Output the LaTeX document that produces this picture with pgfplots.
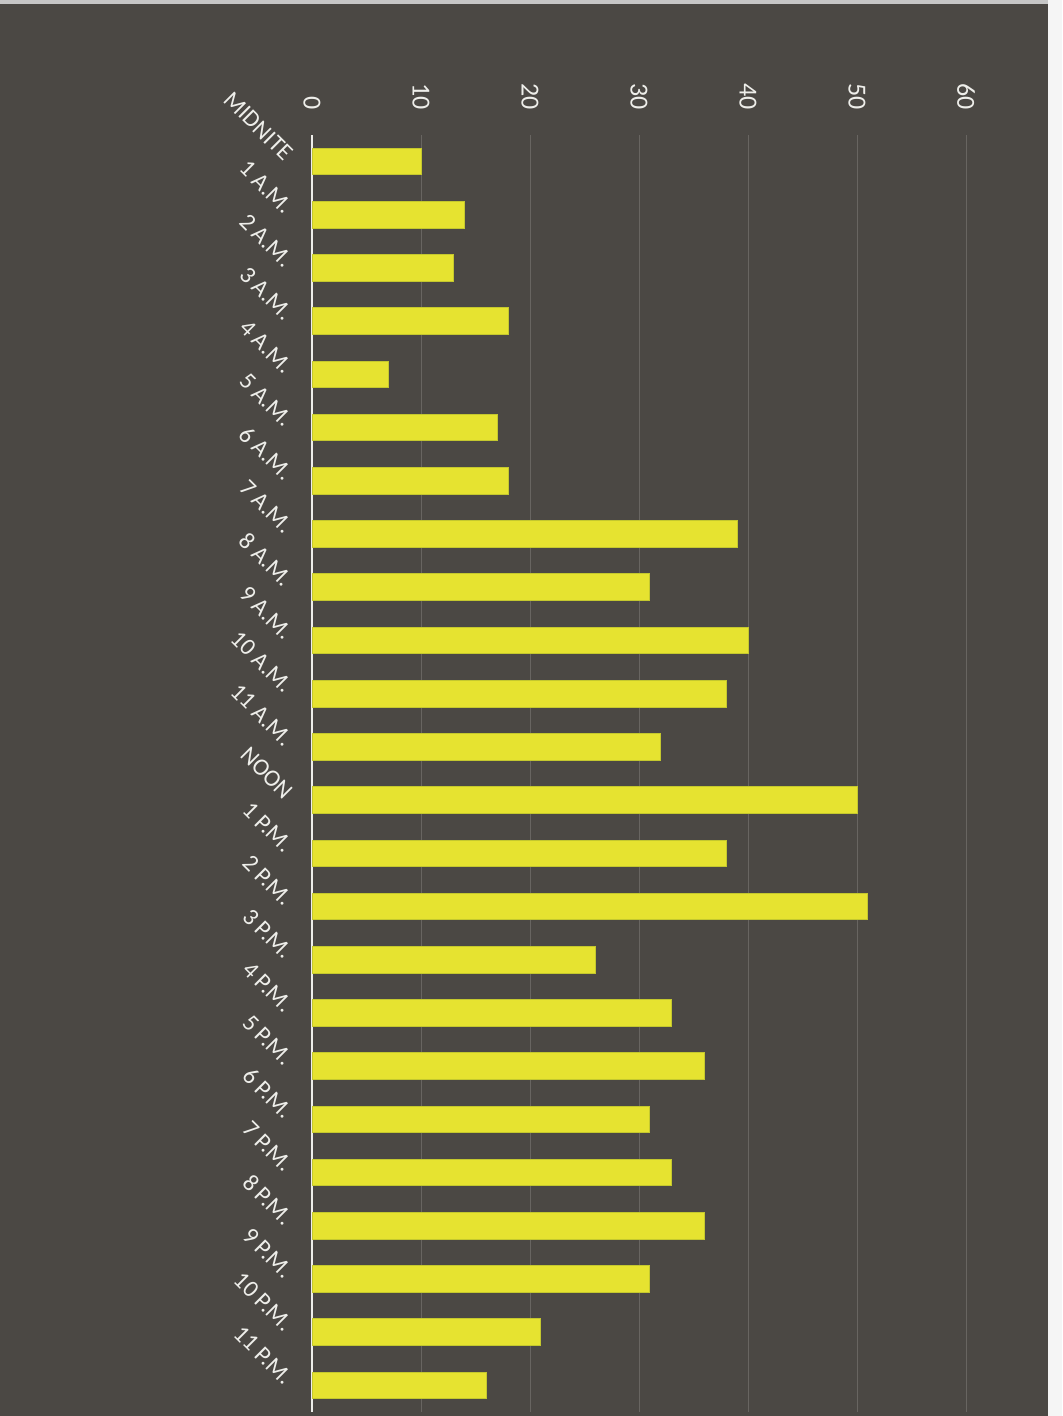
\documentclass[border=0pt]{standalone}
\usepackage{pgfplots}
\pgfplotsset{compat=1.18}
\usepackage{fontspec}
\setmainfont{Carlito}
\definecolor{bg}{RGB}{75,72,68}
\definecolor{gridc}{RGB}{104,101,97}
\definecolor{barcol}{RGB}{230,227,48}
\definecolor{baredge}{RGB}{196,200,46}
\definecolor{labc}{RGB}{238,238,234}
\begin{document}
\begin{tikzpicture}
% page background
\fill[bg] (0,0) rectangle (531pt,-708pt);
\fill[gray!45] (0,0) rectangle (531pt,-2pt);
\fill[white!92!gray] (524pt,0) rectangle (531pt,-708pt);
\useasboundingbox (0,0) rectangle (531pt,-708pt);
\begin{axis}[
  at={(156pt,-67.5pt)}, anchor=north west,
  scale only axis, width=327pt, height=638.5pt,
  xmin=0, xmax=60, ymin=-0.5, ymax=23.5,
  y dir=reverse,
  axis x line*=top, axis y line*=left,
  x axis line style={draw=none},
  y axis line style={draw=labc, line width=1pt, -},
  xtick={0,10,...,60},
  ytick={0,...,23},
  yticklabels={MIDNITE,1 A.M.,2 A.M.,3 A.M.,4 A.M.,5 A.M.,6 A.M.,7 A.M.,8 A.M.,9 A.M.,10 A.M.,11 A.M.,NOON,1 P.M.,2 P.M.,3 P.M.,4 P.M.,5 P.M.,6 P.M.,7 P.M.,8 P.M.,9 P.M.,10 P.M.,11 P.M.},
  major tick length=0pt,
  xmajorgrids, ymajorgrids=false,
  major grid style={draw=gridc, line width=0.5pt},
  /pgf/number format/assume math mode=true,
  tick label style={text=labc},
  xticklabel style={font=\fontsize{13}{15}\selectfont, rotate=-90, anchor=east},
  yticklabel style={font=\fontsize{12}{14}\selectfont, rotate=-45, anchor=east},
  xticklabel shift=9pt,
  yticklabel shift=9pt,
]
\addplot[xbar, bar width=0.5, fill=barcol, draw=baredge, line width=0.5pt]
coordinates {
(10,0) (14,1) (13,2) (18,3) (7,4) (17,5) (18,6) (39,7)
(31,8) (40,9) (38,10) (32,11) (50,12) (38,13) (51,14) (26,15)
(33,16) (36,17) (31,18) (33,19) (36,20) (31,21) (21,22) (16,23)
};
\end{axis}
\end{tikzpicture}
\end{document}
